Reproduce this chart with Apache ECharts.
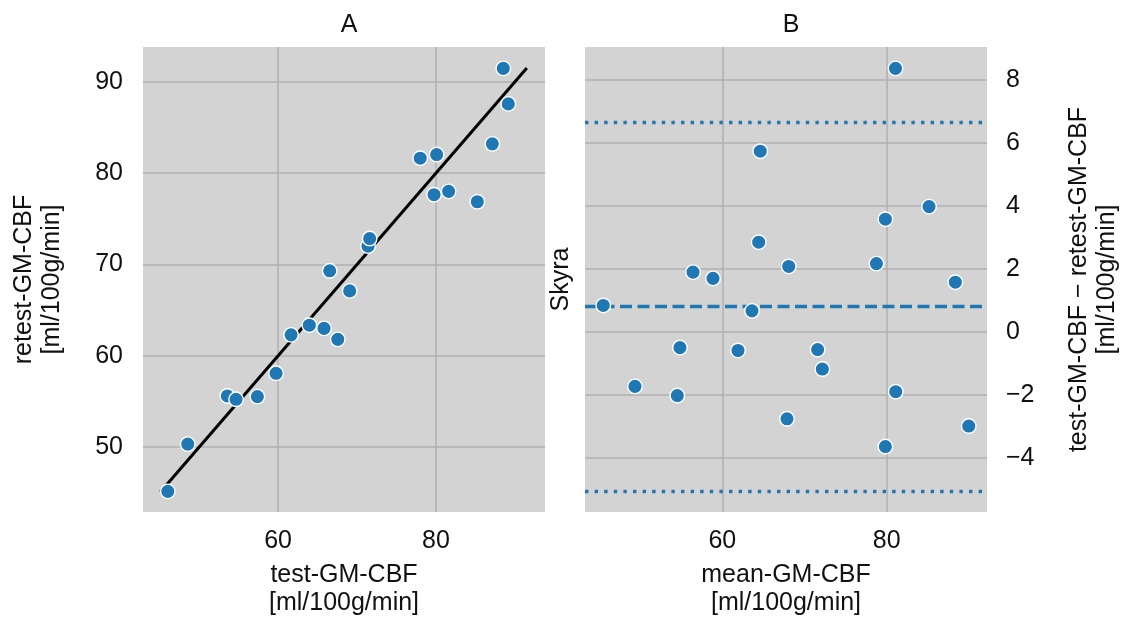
<!DOCTYPE html>
<html>
<head>
<meta charset="utf-8">
<script src="https://cdn.jsdelivr.net/npm/echarts@6/dist/echarts.min.js"></script>
<style>
  html, body { margin: 0; padding: 0; background: #fff; }
  #chart { width: 1126px; height: 622px; }
</style>
</head>
<body>
<div id="chart"></div>
<script>
// panel A: test vs retest GM-CBF
const testCBF = [46.04, 48.57, 53.58, 54.68, 57.38, 59.75, 61.65, 63.96, 65.82, 67.56, 66.54,
  69.07, 71.39, 71.6, 78.0, 80.08, 79.75, 81.6, 85.23, 87.13, 89.15, 88.52]
const retestCBF = [45.16, 50.33, 55.6, 55.24, 55.53, 58.08, 62.29, 63.35, 63.0, 61.8, 69.3,
  67.1, 72.0, 72.83, 81.63, 82.03, 77.63, 78.0, 76.86, 83.2, 87.57, 91.46]
const identityEnds = [45.1, 91.5]

// panel B: Bland-Altman
const meanCBF = [45.52, 49.38, 54.85, 54.53, 56.44, 58.87, 61.91, 63.61, 64.43, 64.62, 67.87,
  68.08, 71.6, 72.17, 78.75, 79.84, 79.84, 81.1, 81.07, 85.15, 88.35, 89.98]
const diffCBF = [0.84, -1.73, -0.5, -2.02, 1.9, 1.7, -0.59, 0.67, 2.85, 5.74, -2.76,
  2.08, -0.56, -1.18, 2.17, 3.58, -3.64, -1.9, 8.37, 3.98, 1.58, -2.99]
const meanDiff = 0.8
const upperLoA = 6.67
const lowerLoA = -5.07

const xTicksA = [60, 80]
const yTicksA = [50, 60, 70, 80, 90]
const xTicksB = [60, 80]
const yTicksB = [-4, -2, 0, 2, 4, 6, 8]

const blue = '#1f77b4'
const font = 'Liberation Sans, Arial, sans-serif'
const textColor = '#111'
const fs = 25

const chart = echarts.init(document.getElementById('chart'))

function axis (extra, ticks, labelExtra) {
  return Object.assign({
    type: 'value',
    nameLocation: 'middle',
    nameTextStyle: { fontFamily: font, fontSize: fs, color: textColor, lineHeight: 28 },
    axisLine: { show: false },
    axisTick: { show: false, customValues: ticks },
    axisLabel: Object.assign({
      fontFamily: font, fontSize: fs, color: textColor,
      customValues: ticks,
      formatter: v => String(v).replace('-', '\u2212')
    }, labelExtra),
    splitLine: { show: true, lineStyle: { color: '#b0b0b0', width: 1.5 } }
  }, extra)
}

const pointStyle = { color: blue, opacity: 1, borderColor: '#fff', borderWidth: 1.4 }

chart.setOption({
  animation: false,
  title: [
    { text: 'A', left: 344, top: 8, textAlign: 'center',
      textStyle: { fontFamily: font, fontSize: fs, fontWeight: 'normal', color: textColor } },
    { text: 'B', left: 786, top: 8, textAlign: 'center',
      textStyle: { fontFamily: font, fontSize: fs, fontWeight: 'normal', color: textColor } }
  ],
  grid: [
    { left: 143, top: 47, width: 402, height: 466, show: true, backgroundColor: '#d3d3d3', borderWidth: 0 },
    { left: 585, top: 47, width: 402, height: 466, show: true, backgroundColor: '#d3d3d3', borderWidth: 0 }
  ],
  xAxis: [
    axis({ gridIndex: 0, min: 42.9, max: 93.8, name: 'test-GM-CBF\n[ml/100g/min]', nameGap: 49 },
      xTicksA, { margin: 17 }),
    axis({ gridIndex: 1, min: 43.3, max: 92.2, name: 'mean-GM-CBF\n[ml/100g/min]', nameGap: 49 },
      xTicksB, { margin: 17 })
  ],
  yAxis: [
    axis({ gridIndex: 0, min: 42.9, max: 93.8, name: 'retest-GM-CBF\n[ml/100g/min]', nameGap: 77,
      nameRotate: 90 }, yTicksA, { margin: 20 }),
    axis({ gridIndex: 1, position: 'right', min: -5.72, max: 9.05,
      name: 'test-GM-CBF \u2212 retest-GM-CBF\n[ml/100g/min]', nameGap: 78, nameRotate: 90 },
      yTicksB, { margin: 19, align: 'left' }),
    axis({ gridIndex: 1, position: 'left', min: -5.72, max: 9.05, name: 'Skyra', nameGap: 10,
      nameRotate: 90, splitLine: { show: false } }, yTicksB, { show: false })
  ],
  series: [
    {
      type: 'line', xAxisIndex: 0, yAxisIndex: 0, symbol: 'none', silent: true,
      lineStyle: { color: '#000', width: 3 },
      data: identityEnds.map(v => [v, v]), z: 2
    },
    {
      type: 'scatter', xAxisIndex: 0, yAxisIndex: 0, symbolSize: 14.5,
      itemStyle: pointStyle, z: 3,
      data: testCBF.map((v, i) => [v, retestCBF[i]])
    },
    {
      type: 'scatter', xAxisIndex: 1, yAxisIndex: 1, symbolSize: 14.5,
      itemStyle: pointStyle, z: 3,
      data: meanCBF.map((v, i) => [v, diffCBF[i]]),
      markLine: {
        silent: true, symbol: 'none', label: { show: false }, z: 2,
        data: [
          { yAxis: meanDiff, lineStyle: { type: [12, 5.5], color: blue, width: 3.3, opacity: 1 } },
          { yAxis: upperLoA, lineStyle: { type: [3.4, 6.2], color: blue, width: 3.4, opacity: 1 } },
          { yAxis: lowerLoA, lineStyle: { type: [3.4, 6.2], color: blue, width: 3.4, opacity: 1 } }
        ]
      }
    }
  ]
})
</script>
</body>
</html>
